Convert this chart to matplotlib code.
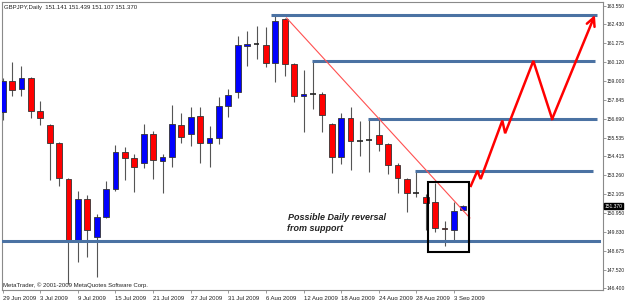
import matplotlib
matplotlib.use("Agg")
import matplotlib.pyplot as plt
from matplotlib.patches import Rectangle
from matplotlib.transforms import blended_transform_factory

plt.rcParams['font.family'] = ['Liberation Sans', 'DejaVu Sans']

# GBPJPY daily candles, 29 Jun 2009 .. 4 Sep 2009
opens = [157.12, 159.01, 158.49, 159.15, 157.17, 156.32, 155.22, 153.03, 149.32, 151.81,
         149.52, 150.74, 152.41, 154.66, 154.29, 153.99, 155.77, 154.15, 154.35, 156.32,
         155.75, 156.86, 155.24, 155.50, 157.49, 158.34, 161.14, 161.22, 161.18, 160.10,
         162.76, 160.02, 158.08, 158.18, 158.18, 156.36, 154.39, 156.72, 155.36, 155.40,
         155.71, 155.14, 153.88, 153.03, 152.20, 151.96, 151.62, 150.07, 149.93, 151.141]
highs = [159.17, 160.16, 159.90, 159.22, 157.77, 156.38, 155.30, 153.07, 152.30, 152.06,
         150.90, 152.91, 155.10, 154.96, 154.53, 156.38, 155.95, 154.55, 157.53, 157.03,
         157.39, 157.39, 156.25, 158.00, 158.49, 161.73, 162.05, 162.33, 162.26, 163.00,
         162.80, 160.06, 159.66, 160.22, 158.34, 156.42, 157.03, 157.39, 156.58, 156.65,
         156.78, 155.20, 153.98, 153.11, 153.52, 152.10, 152.77, 150.50, 151.65, 151.439]
lows = [156.62, 158.08, 158.08, 156.76, 156.32, 152.97, 152.62, 146.65, 148.00, 148.31,
        147.07, 150.64, 152.32, 152.97, 152.26, 153.68, 153.01, 152.20, 153.74, 155.24,
        155.06, 154.02, 153.78, 155.16, 156.82, 157.97, 159.92, 160.33, 159.86, 158.91,
        159.29, 157.73, 155.87, 157.27, 155.91, 153.38, 153.94, 153.58, 154.45, 153.48,
        154.75, 153.33, 152.16, 151.01, 151.92, 149.93, 149.83, 148.98, 149.32, 151.107]
closes = [159.01, 158.44, 159.15, 157.17, 156.72, 155.20, 153.07, 149.32, 151.81, 149.93,
          150.74, 152.41, 154.66, 154.29, 153.78, 155.77, 154.19, 154.35, 156.36, 155.60,
          156.82, 155.24, 155.50, 157.49, 158.14, 161.18, 161.22, 161.22, 160.10, 162.66,
          160.02, 158.10, 158.18, 158.18, 156.92, 154.39, 156.72, 155.36, 155.36, 155.40,
          155.14, 153.88, 153.07, 152.16, 152.20, 151.55, 150.07, 149.97, 151.09, 151.370]

# one date label every 4 bars
date_labels = ['29 Jun 2009', '3 Jul 2009', '9 Jul 2009', '15 Jul 2009', '21 Jul 2009',
               '27 Jul 2009', '31 Jul 2009', '6 Aug 2009', '12 Aug 2009', '18 Aug 2009',
               '24 Aug 2009', '28 Aug 2009', '3 Sep 2009']
price_ticks = [163.550, 162.430, 161.275, 160.120, 159.000, 157.845, 156.690, 155.535,
               154.415, 153.260, 152.105, 150.950, 149.830, 148.675, 147.520, 146.400]

# resistance levels (price, first bar, last bar) and support
level_prices = [163.00, 160.22, 156.66, 153.52]
level_from = [28.5, 32.9, 38.9, 43.9]
level_to = [63.2, 63.0, 63.2, 62.8]
support_price = 149.28

# down trend line and projected path
trend_x = [30.2, 49.7]
trend_y = [162.82, 150.66]
path_x = [49.8, 50.5, 50.85, 53.15, 53.45, 56.45, 58.45, 63.0]
path_y = [152.61, 153.53, 153.03, 156.58, 155.81, 160.21, 156.68, 163.00]
last_price = 151.370

fig = plt.figure(figsize=(6.25, 3.0), dpi=100)
fig.patch.set_facecolor('white')
ax = fig.add_axes([2 / 625, 10 / 300, 601 / 625, 288 / 300])

grey = '#8a8a8a'
for s in ax.spines.values():
    s.set_color(grey)
    s.set_linewidth(0.8)

# candles
for i in range(len(opens)):
    o, h, l, c = opens[i], highs[i], lows[i], closes[i]
    ax.vlines(i, l, h, color='#555555', lw=0.8, zorder=2)
    if abs(c - o) < 0.01:
        ax.hlines(o, i - 0.31, i + 0.31, color='#222222', lw=1.2, zorder=3)
        continue
    col = '#0000ff' if c > o else '#ff0000'
    ax.add_patch(Rectangle((i - 0.31, min(o, c)), 0.62, abs(c - o),
                           facecolor=col, edgecolor='#333333', lw=0.6, zorder=3))

# horizontal levels
lvl_col = '#4b72a3'
for p, a, b in zip(level_prices, level_from, level_to):
    ax.hlines(p, a, b, color=lvl_col, lw=2.2, zorder=4)
ax.axhline(support_price, xmin=0, xmax=(63.45 + 0.074) / 63.93, color=lvl_col, lw=2.2, zorder=4)

ax.plot(trend_x, trend_y, color='#ff5050', lw=0.8, zorder=5)

# projection
ax.plot(path_x[:-1], path_y[:-1], color='#ff0000', lw=1.8, zorder=6, solid_joinstyle='miter')
ax.annotate('', xy=(path_x[-1], path_y[-1]), xytext=(path_x[-2], path_y[-2]),
            arrowprops=dict(arrowstyle='->,head_length=0.6,head_width=0.3',
                            color='#ff0000', lw=1.8, shrinkA=0, shrinkB=0), zorder=6)

# box around the reversal candles
ax.add_patch(Rectangle((45.28, 148.61), 49.64 - 45.28, 152.83 - 148.61,
                       fill=False, edgecolor='black', lw=1.5, zorder=6))

ax.text(30.35, 150.68, 'Possible Daily reversal', fontsize=6.5, style='italic',
        fontweight='bold', color='#222222', va='center', ha='left', zorder=7)
ax.text(30.2, 150.03, 'from support', fontsize=6.5, style='italic',
        fontweight='bold', color='#222222', va='center', ha='left', zorder=7)

ax.set_xlim(-0.074, 63.86)
ax.set_ylim(146.28, 163.79)

ax.yaxis.tick_right()
ax.set_yticks(price_ticks)
ax.set_yticklabels(['%.3f' % v for v in price_ticks])
ax.set_xticks(range(0, 4 * len(date_labels), 4))
ax.set_xticklabels(date_labels, ha='left')
ax.tick_params(axis='both', direction='out', length=2.5, width=0.6, color=grey,
               labelsize=4.3, labelcolor='#222222', pad=1.5)
ax.tick_params(axis='y', labelsize=3.6, pad=0.8, length=2.0)

# current price tag
tr = blended_transform_factory(ax.transAxes, ax.transData)
ax.text(1.003, last_price, '%.3f' % last_price, transform=tr, fontsize=3.6, color='white',
        va='center', ha='left', clip_on=False, zorder=8,
        bbox=dict(boxstyle='square,pad=0.12', facecolor='black', edgecolor='black'))

fig.text(4 / 625, 1 - 7 / 300, 'GBPJPY,Daily  151.141 151.439 151.107 151.370',
         fontsize=4.3, color='#222222', va='center', ha='left')
fig.text(3 / 625, 1 - 285 / 300, 'MetaTrader, \u00a9 2001-2009 MetaQuotes Software Corp.',
         fontsize=4.3, color='#222222', va='center', ha='left')

fig.savefig('out.png', dpi=100)
